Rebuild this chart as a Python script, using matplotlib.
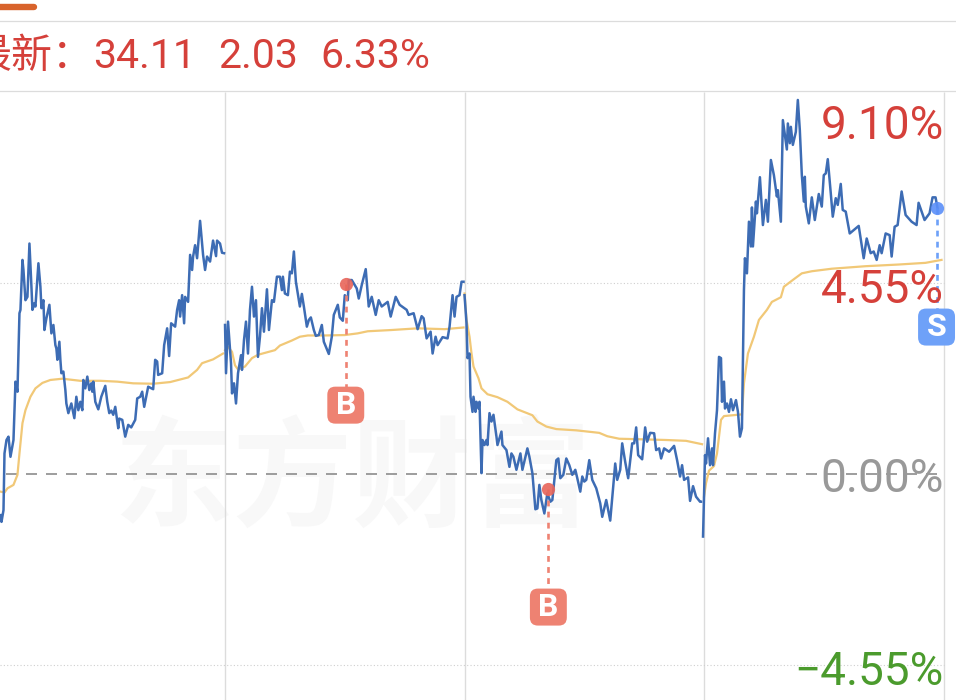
import numpy as np
import matplotlib
matplotlib.use("Agg")
import matplotlib.pyplot as plt
from matplotlib.lines import Line2D
from matplotlib.patches import FancyBboxPatch

W, H = 956, 700

# ---- data: minutes since start of first session, percent change ----
day1_min = [15,16,18,19,21,23,25,28,30,32,34,35,37,38,40,42,44,46,47,49,50,53,55,56,58,59,61,64,66,68,70,71,72,74,75,76,78,80,81,83,86,89,91,93,95,97,98,100,102,104,106,107,108,110,113,116,120,122,124,126,128,130,133,134,137,140,143,146,150,152,155,157,159,163,168,170,172,173,177,179,182,184,186,190,192,194,195,197,199,200,203,205,207,208,210,212,215,218,220,222,225,228,231,232,235,237,239]
day1_pct = [-0.98,-1.14,-0.86,0.49,0.81,0.89,0.41,0.81,2.20,1.96,3.83,3.91,5.10,4.86,4.14,4.22,5.49,4.46,3.91,4.07,3.99,5.02,4.46,3.95,4.14,3.43,3.71,4.03,3.35,3.55,3.07,2.99,2.72,3.15,2.72,2.40,2.44,2.00,1.68,1.45,1.68,1.33,1.84,1.52,1.72,1.52,2.24,2.04,2.32,2.00,2.16,1.96,2.20,1.72,1.54,1.84,2.10,1.72,1.45,1.51,1.41,1.60,1.09,1.32,1.29,0.89,1.17,1.11,1.29,1.80,1.84,1.96,1.60,2.08,2.02,2.72,2.68,2.36,2.40,3.07,3.47,2.81,3.59,3.51,3.91,4.14,3.75,4.26,3.59,4.22,4.10,5.22,4.86,5.18,5.45,5.14,6.03,5.22,4.86,5.18,5.06,5.56,5.19,5.56,5.49,5.27,5.26]
day1_avg_min = [15,19,22,28,32,34,37,40,45,50,57,65,77,95,115,132,148,168,185,203,212,217,228,238]
day1_avg_pct = [-0.42,-0.44,-0.34,-0.26,-0.02,0.49,1.21,1.52,1.84,2.04,2.17,2.24,2.27,2.22,2.22,2.20,2.16,2.15,2.19,2.30,2.48,2.64,2.73,2.87]

day2_min = [240,241,243,246,247,249,251,253,256,257,259,261,263,265,267,269,271,273,275,277,279,282,284,287,289,292,295,297,298,300,303,305,307,309,311,315,317,319,322,324,326,329,331,334,337,339,344,347,349,353,355,358,360,363,364,367,369,372,374,377,381,384,387,391,394,397,403,406,411,415,422,424,429,433,437,439,442,446,448,451,453,458,463,465,468,470,472,475,477,479]
day2_pct = [3.55,2.40,3.63,2.64,1.92,2.16,1.68,2.40,2.83,2.48,3.19,3.63,2.87,3.91,4.46,3.75,4.14,2.79,3.27,3.95,3.39,4.40,3.43,4.14,4.10,4.70,4.70,4.38,4.70,4.30,4.26,4.82,4.78,5.30,4.58,3.99,4.29,3.99,3.51,3.67,3.73,3.43,3.29,3.31,3.55,3.15,2.86,3.27,3.79,4.03,3.73,3.65,4.26,4.14,4.62,4.62,4.54,4.42,4.18,4.50,4.88,3.99,4.22,3.79,4.14,3.99,4.10,3.75,4.22,4.03,3.91,3.79,3.83,3.45,3.76,3.71,3.23,3.39,2.87,3.27,3.07,3.26,3.23,3.51,4.26,3.75,4.22,4.26,4.58,4.58]
day2_avg_min = [240,243,247,250,253,260,267,273,290,295,307,315,323,340,360,373,383,407,433,460,479]
day2_avg_pct = [2.95,3.03,2.91,2.59,2.49,2.56,2.76,2.84,2.95,3.06,3.18,3.27,3.30,3.30,3.31,3.35,3.40,3.43,3.47,3.45,3.49]

day3_min = [480,482,483,485,486,488,489,491,492,494,495,497,498,500,502,503,505,507,509,512,513,517,518,522,525,527,529,532,536,538,543,545,548,551,553,555,557,560,563,566,568,572,574,576,579,582,585,588,591,593,596,598,600,602,605,608,612,616,618,622,626,629,631,633,636,638,641,644,648,650,652,654,658,661,663,666,670,672,675,677,680,685,690,693,696,698,700,704,706,709,712,716,717]
day3_pct = [4.26,3.59,2.76,2.87,1.84,1.48,1.84,1.48,1.72,1.56,1.72,0.02,0.81,0.69,0.81,0.69,1.45,1.25,1.41,0.89,0.69,1.01,0.69,0.57,0.17,0.49,0.41,0.10,0.49,0.10,0.61,0.41,0.02,-0.84,-0.82,-0.26,-0.62,-0.94,-0.46,-0.66,-0.62,0.33,0.37,-0.10,-0.02,0.37,0.21,-0.02,0.10,-0.10,-0.42,-0.06,-0.18,-0.14,0.33,-0.14,-0.34,-0.70,-1.02,-0.62,-1.11,-0.30,0.25,-0.14,0.10,0.73,0.29,-0.10,0.73,0.73,1.11,0.45,0.35,1.11,0.77,0.98,0.97,0.57,0.61,0.37,0.61,0.53,0.67,0.33,-0.06,0.21,-0.14,-0.08,-0.64,-0.29,-0.54,-0.66,-0.66]
day3_avg_min = [480,482,485,487,489,494,497,503,513,523,533,548,553,562,572,592,615,623,635,652,682,702,718]
day3_avg_pct = [4.30,3.67,3.27,2.87,2.56,2.28,2.04,1.90,1.83,1.72,1.54,1.40,1.25,1.13,1.07,1.04,0.98,0.90,0.84,0.83,0.81,0.79,0.71]

day4_min = [719,721,722,724,726,728,729,731,733,735,737,738,740,741,743,745,747,749,752,754,756,758,760,761,763,765,767,768,769,772,773,776,779,782,784,787,790,793,794,797,799,803,804,806,807,809,812,814,816,818,820,821,822,825,828,831,835,838,840,842,844,847,849,852,854,857,859,862,866,870,875,880,883,887,890,893,896,898,902,906,908,911,914,918,922,928,933,935,941,946,949,952,954]
day4_pct = [-1.49,0.45,0.25,0.85,0.21,0.61,0.21,0.97,1.52,2.79,2.76,1.72,2.20,1.56,1.68,1.48,1.78,1.52,1.76,1.48,0.89,1.09,4.38,5.14,4.78,6.01,5.42,6.35,5.42,6.49,6.21,7.07,5.93,6.53,6.01,7.48,7.12,6.61,6.76,6.01,8.43,7.73,8.35,7.88,8.27,7.84,8.15,8.91,8.19,7.12,6.49,7.08,6.37,5.97,6.59,6.05,6.67,6.37,7.12,7.16,7.50,6.69,6.13,6.57,6.41,6.91,6.29,6.25,5.73,5.81,5.91,5.14,5.61,5.26,5.30,5.10,5.45,5.26,5.73,5.69,5.18,5.89,5.93,6.73,6.17,6.01,5.93,6.46,6.05,6.21,6.59,6.59,6.33]
day4_avg_min = [720,722,725,730,733,737,740,758,760,764,770,775,783,788,797,800,810,818,828,848,882,915,942,958]
day4_avg_pct = [-0.54,-0.22,0.08,0.19,0.49,1.29,1.38,1.42,2.16,2.87,3.27,3.67,3.91,4.10,4.21,4.46,4.64,4.78,4.83,4.89,4.95,4.99,5.03,5.10]

session_bounds = [240, 480, 720, 960]
y_ticks = [9.10, 4.55, 0.00, -4.55]
y_labels = ["9.10%", "4.55%", "0.00%", "\u22124.55%"]
y_label_colors = ["#d5403a", "#d5403a", "#999999", "#4b9b2d"]
y_label_center = [8.40, 4.48, 0.00, -4.60]

signal_min = [361, 564, 953]
signal_pct = [4.53, -0.36, 6.33]
signal_badge_pct = [1.64, -3.17, 3.50]
signal_text = ["B", "B", "S"]
signal_dot = ["#e8655a", "#e8655a", "#5b8ff9"]
signal_box = ["#ee8272", "#ee8272", "#6ea1f8"]

header_labels = ["最新：", "34.11", "2.03", "6.33%"]
header_x = [93, 93, 218, 320]
watermark = "东方财富"

BLUE = "#3d6cb4"
YELLOW = "#f1c877"
GRID = "#dcdcdc"
PX_PER_PCT = 41.98

fig = plt.figure(figsize=(W / 100, H / 100), dpi=100, facecolor="white")
ax = fig.add_axes([0, 0, 1, 1])
ax.set_xlim(14.5, 14.5 + W * 240 / 239.5)
ymin = (474 - H) / PX_PER_PCT
ax.set_ylim(ymin, 474 / PX_PER_PCT)
ax.axis("off")


def fx(px):
    return px / W


def fy(py):
    return 1 - py / H


# header
fig.add_artist(Line2D([fx(-5), fx(34)], [fy(7), fy(7)], color="#d8632c", lw=4.6,
                      solid_capstyle="round"))
for py in (20.5, 91):
    fig.add_artist(Line2D([0, 1], [fy(py), fy(py)], color=GRID, lw=0.9))
for i, (s, x) in enumerate(zip(header_labels, header_x)):
    fig.text(fx(x), fy(68), s, color="#d5403a", fontsize=29.5,
             ha="right" if i == 0 else "left", va="baseline",
             family=["Noto Sans CJK SC"] if i == 0 else ["Roboto"])

# watermark
ax.text(367, -0.22, watermark, fontsize=86, fontweight="bold", color="#f8f8f8",
        family=["Noto Sans CJK SC"], ha="center", va="center", zorder=0)

# session separators and grid
ax.vlines(session_bounds, ymin, y_ticks[0], color=GRID, lw=1.0, zorder=1)
for t in (4.55, -4.55):
    ax.hlines(t, 15, session_bounds[-1], color="#cfcfcf", lw=0.8, linestyles=(0, (1, 2)), zorder=1)
ax.hlines(0, 20.5, session_bounds[-1], color="#8c8c8c", lw=1.2, linestyles=(0, (6.6, 5.4)), zorder=2)

# series
avg = [(day1_avg_min, day1_avg_pct), (day2_avg_min, day2_avg_pct),
       (day3_avg_min, day3_avg_pct), (day4_avg_min, day4_avg_pct)]
price = [(day1_min, day1_pct), (day2_min, day2_pct), (day3_min, day3_pct), (day4_min, day4_pct)]
for m, p in avg:
    ax.plot(m, p, color=YELLOW, lw=1.6, zorder=3, solid_joinstyle="round")
for m, p in price:
    ax.plot(m, p, color=BLUE, lw=1.8, zorder=4, solid_joinstyle="round")

# axis labels
for yy, s, c in zip(y_label_center, y_labels, y_label_colors):
    ax.text(14.5 + 945.5, yy, s, color=c, fontsize=33, family=["Roboto"], ha="right",
            va="center_baseline", zorder=6)

# trade signals
for m, p, b, s, d, bx in zip(signal_min, signal_pct, signal_badge_pct, signal_text,
                             signal_dot, signal_box):
    ax.plot([m, m], [p, b], color=bx, lw=1.9, linestyle=(0, (2.2, 2.0)), zorder=5)
    ax.plot([m], [p], "o", ms=9.5, color=d, mec="none", alpha=0.9, zorder=7)
    ax.add_patch(FancyBboxPatch((m - 12, b - 12 / PX_PER_PCT), 24, 24 / PX_PER_PCT,
                                boxstyle="round,pad=6.5,rounding_size=8",
                                mutation_aspect=1 / PX_PER_PCT,
                                fc=bx, ec="none", zorder=7.5))
    ax.text(m, b, s, fontsize=23, fontweight="bold", color="white", family=["Roboto"],
            ha="center", va="center", zorder=8)

fig.savefig("out.png", dpi=100, facecolor="white")
